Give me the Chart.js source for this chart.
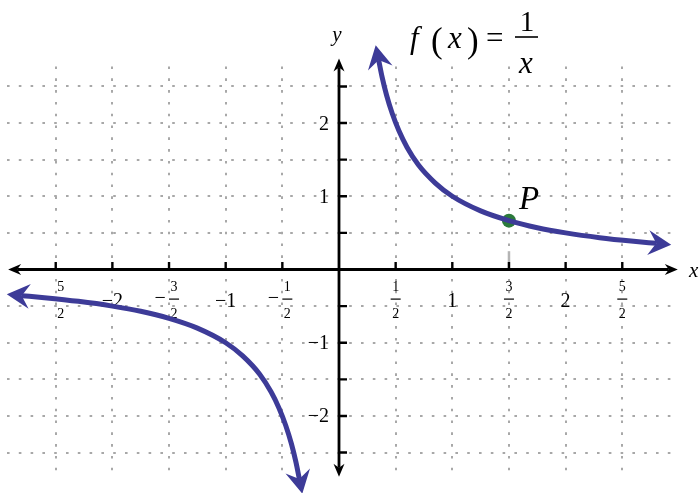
<!DOCTYPE html>
<html>
<head>
<meta charset="utf-8">
<script src="https://cdn.jsdelivr.net/npm/chart.js"></script>
<style>
  html, body { margin: 0; padding: 0; background: #fff; }
  #wrap { width: 700px; height: 493px; position: relative; }
</style>
</head>
<body>
<div id="wrap"><canvas id="plot"></canvas></div>
<script>
// branch for x > 0
const posX = [0.35, 0.38, 0.42, 0.47, 0.53, 0.6, 0.7, 0.85, 1.0, 1.25, 1.5, 1.75, 2.0, 2.3, 2.6, 2.8];
const posY = [2.86, 2.63, 2.38, 2.13, 1.89, 1.67, 1.43, 1.18, 1.0, 0.8, 0.667, 0.57, 0.5, 0.435, 0.385, 0.357];
// branch for x < 0
const negX = [-2.8, -2.6, -2.3, -2.0, -1.75, -1.5, -1.25, -1.0, -0.85, -0.7, -0.6, -0.53, -0.47, -0.42, -0.38, -0.35];
const negY = [-0.357, -0.385, -0.435, -0.5, -0.57, -0.667, -0.8, -1.0, -1.18, -1.43, -1.67, -1.89, -2.13, -2.38, -2.63, -2.86];
const pointP = [1.5, 0.667];

const gridX = [-2.5, -2, -1.5, -1, -0.5, 0.5, 1, 1.5, 2, 2.5];
const gridY = [-2.5, -2, -1.5, -1, -0.5, 0.5, 1, 1.5, 2, 2.5];
const xTickLabels = ['−5/2', '−2', '−3/2', '−1', '−1/2', '1/2', '1', '3/2', '2', '5/2'];
const yTickVals = [-2, -1, 1, 2];
const yTickLabels = ['−2', '−1', '1', '2'];

const CURVE = '#3d3b98';
const SERIF = '"Liberation Serif", serif';

function zip(xs, ys) { return xs.map((x, i) => ({ x: x, y: ys[i] })); }

// stealth style arrow head, tip at (tx,ty), (dx,dy) = unit direction of travel
function arrowHead(ctx, tx, ty, dx, dy, len, half, notch, color) {
    const nx = -dy, ny = dx;
    ctx.save();
    ctx.fillStyle = color;
    ctx.beginPath();
    ctx.moveTo(tx, ty);
    ctx.lineTo(tx - dx * len + nx * half, ty - dy * len + ny * half);
    ctx.lineTo(tx - dx * notch, ty - dy * notch);
    ctx.lineTo(tx - dx * len - nx * half, ty - dy * len - ny * half);
    ctx.closePath();
    ctx.fill();
    ctx.restore();
}

function drawXLabel(ctx, text, cx) {
    const neg = text.startsWith('−');
    const body = neg ? text.slice(1) : text;
    ctx.textAlign = 'center';
    ctx.textBaseline = 'alphabetic';
    if (body.includes('/')) {
        const parts = body.split('/');
        const fx = cx + (neg ? 5 : 0);
        ctx.font = '14px ' + SERIF;
        ctx.fillText(parts[0], fx, 291);
        ctx.fillText(parts[1], fx, 318);
        ctx.fillRect(fx - 5, 298.5, 10, 1.2);
        if (neg) { ctx.font = '20px ' + SERIF; ctx.fillText('−', fx - 14, 304); }
    } else {
        ctx.font = '20px ' + SERIF;
        ctx.fillText(text, cx, 307);
    }
}

const backdrop = {
    id: 'backdrop',
    beforeDatasetsDraw(chart) {
        const ctx = chart.ctx, xs = chart.scales.x, ys = chart.scales.y, a = chart.chartArea;
        const x0 = xs.getPixelForValue(0), y0 = ys.getPixelForValue(0);
        ctx.save();

        // dotted grid
        ctx.strokeStyle = '#a8a8a8'; ctx.lineWidth = 2; ctx.setLineDash([2.6, 9.2]);
        gridY.forEach(v => {
            const p = Math.round(ys.getPixelForValue(v));
            ctx.beginPath(); ctx.moveTo(a.left, p); ctx.lineTo(a.right, p); ctx.stroke();
        });
        ctx.lineDashOffset = 8.3;
        gridX.forEach(v => {
            const p = Math.round(xs.getPixelForValue(v));
            ctx.beginPath(); ctx.moveTo(p, a.top); ctx.lineTo(p, a.bottom); ctx.stroke();
        });
        ctx.setLineDash([]); ctx.lineDashOffset = 0;

        // drop line under P
        const px = xs.getPixelForValue(pointP[0]);
        ctx.strokeStyle = '#b4b4b4'; ctx.lineWidth = 2.5;
        ctx.beginPath(); ctx.moveTo(px, y0); ctx.lineTo(px, ys.getPixelForValue(0.25)); ctx.stroke();

        // axes with arrows
        ctx.strokeStyle = '#000'; ctx.lineWidth = 2.8;
        const xl = xs.getPixelForValue(-2.92), xr = xs.getPixelForValue(2.99);
        const yt = ys.getPixelForValue(2.88), yb = ys.getPixelForValue(-2.83);
        ctx.beginPath();
        ctx.moveTo(xl + 9, y0); ctx.lineTo(xr - 9, y0);
        ctx.moveTo(x0, yb - 9); ctx.lineTo(x0, yt + 9);
        ctx.stroke();
        arrowHead(ctx, xr, y0, 1, 0, 13, 5.5, 9, '#000');
        arrowHead(ctx, xl, y0, -1, 0, 13, 5.5, 9, '#000');
        arrowHead(ctx, x0, yt, 0, -1, 13, 5.5, 9, '#000');
        arrowHead(ctx, x0, yb, 0, 1, 13, 5.5, 9, '#000');

        // tick marks
        ctx.lineWidth = 2.4;
        ctx.beginPath();
        gridX.forEach(v => { const p = xs.getPixelForValue(v); ctx.moveTo(p, y0); ctx.lineTo(p, y0 - 7.5); });
        gridY.forEach(v => { const p = ys.getPixelForValue(v); ctx.moveTo(x0, p); ctx.lineTo(x0 + 8, p); });
        ctx.stroke();

        // tick labels
        ctx.fillStyle = '#000';
        gridX.forEach((v, i) => drawXLabel(ctx, xTickLabels[i], xs.getPixelForValue(v)));
        ctx.font = '20px ' + SERIF; ctx.textAlign = 'right'; ctx.textBaseline = 'alphabetic';
        yTickVals.forEach((v, i) => ctx.fillText(yTickLabels[i], 329, ys.getPixelForValue(v) + 6.5));

        // axis names
        ctx.font = 'italic 21px ' + SERIF;
        ctx.textAlign = 'center'; ctx.fillText('y', 337, 41);
        ctx.textAlign = 'left'; ctx.fillText('x', 689, 277);

        // formula f(x) = 1/x
        ctx.font = 'italic 31px ' + SERIF; ctx.fillText('f', 410, 48);
        ctx.font = '35px ' + SERIF; ctx.fillText('(', 431, 52);
        ctx.font = 'italic 31px ' + SERIF; ctx.fillText('x', 448, 48);
        ctx.font = '35px ' + SERIF; ctx.fillText(')', 467, 52);
        ctx.font = '31px ' + SERIF; ctx.fillText('=', 486, 48);
        ctx.fillRect(515, 36.2, 23, 1.6);
        ctx.textAlign = 'center';
        ctx.font = '29px ' + SERIF; ctx.fillText('1', 527, 31);
        ctx.font = 'italic 31px ' + SERIF; ctx.fillText('x', 526, 73);

        // point label
        ctx.textAlign = 'left';
        ctx.font = 'italic 33px ' + SERIF; ctx.fillText('P', 519, 209);
        ctx.restore();
    },
    afterDatasetsDraw(chart) {
        const ctx = chart.ctx;
        [0, 1].forEach(i => {
            const pts = chart.getDatasetMeta(i).data;
            const ends = [[pts[0], pts[1]], [pts[pts.length - 1], pts[pts.length - 2]]];
            ends.forEach(e => {
                let dx = e[0].x - e[1].x, dy = e[0].y - e[1].y;
                const l = Math.hypot(dx, dy); dx /= l; dy /= l;
                arrowHead(ctx, e[0].x + dx * 15, e[0].y + dy * 15, dx, dy, 23, 12.5, 15, CURVE);
            });
        });
    }
};

function build() {
    new Chart(document.getElementById('plot'), {
        type: 'line',
        data: {
            datasets: [
                { data: zip(posX, posY), borderColor: CURVE, borderWidth: 5, pointRadius: 0,
                  cubicInterpolationMode: 'monotone', clip: false, fill: false },
                { data: zip(negX, negY), borderColor: CURVE, borderWidth: 5, pointRadius: 0,
                  cubicInterpolationMode: 'monotone', clip: false, fill: false },
                { type: 'scatter', data: [{ x: pointP[0], y: pointP[1] }], pointRadius: 7,
                  backgroundColor: '#2b7a3b', borderWidth: 0, clip: false }
            ]
        },
        options: {
            responsive: true, maintainAspectRatio: false, animation: false, events: [],
            layout: { padding: { left: 4, right: 29, top: 63, bottom: 17 } },
            scales: {
                x: { type: 'linear', min: -2.93, max: 2.93, display: false },
                y: { type: 'linear', min: -2.82, max: 2.82, display: false }
            },
            plugins: { legend: { display: false }, tooltip: { enabled: false } }
        },
        plugins: [backdrop]
    });
}

// make sure the serif faces are ready before the canvas text is drawn
Promise.all([
    document.fonts.load('20px "Liberation Serif"'),
    document.fonts.load('italic 20px "Liberation Serif"')
]).then(build, build);
</script>
</body>
</html>
